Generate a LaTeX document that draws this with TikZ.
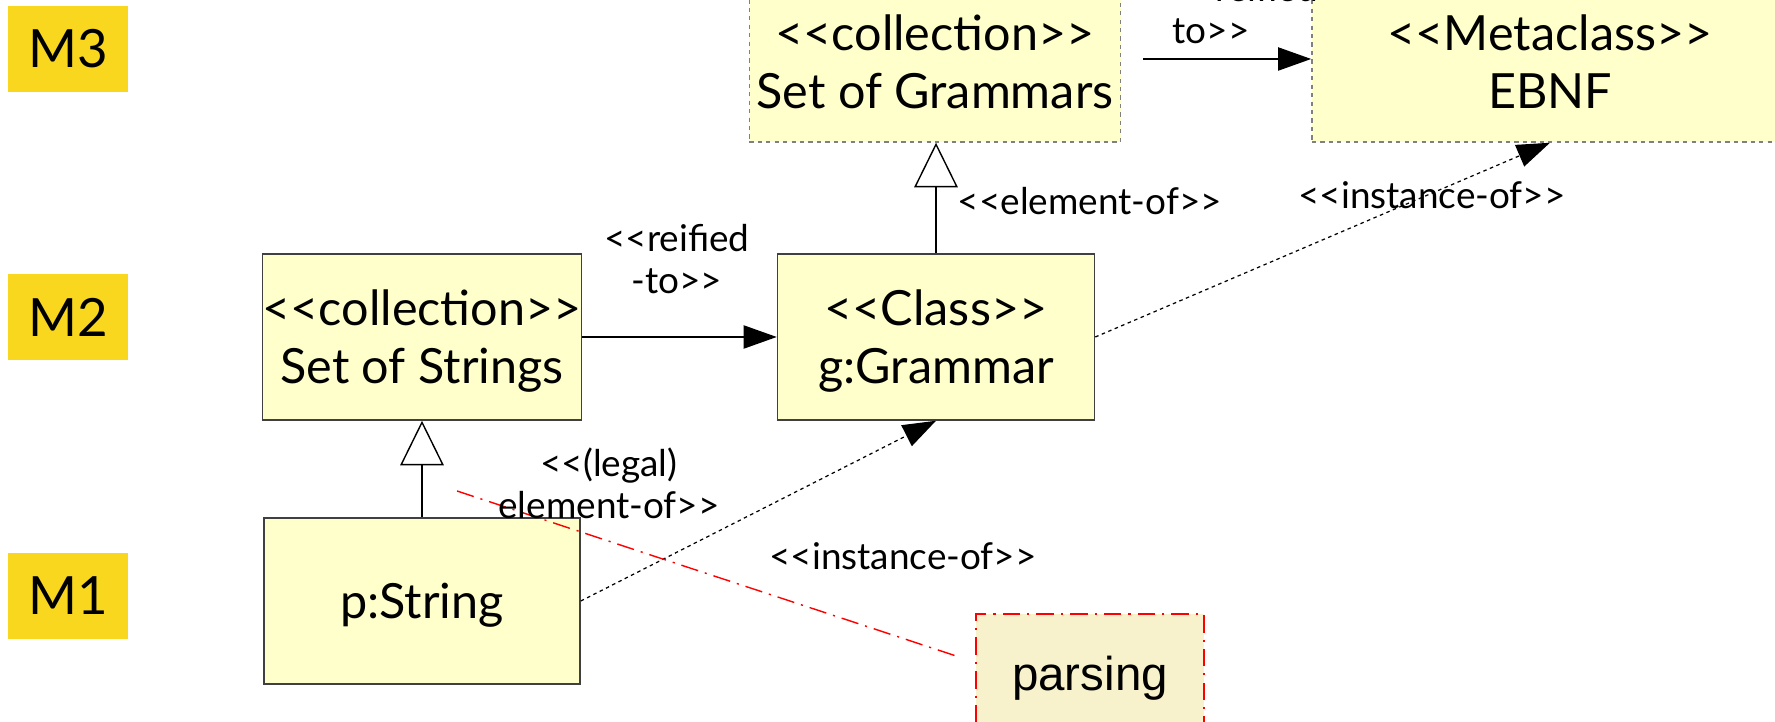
\documentclass[tikz,border=0pt]{standalone}
\usepackage{fontspec}
\setmainfont{Lato}
\newfontfamily\arialfont{Liberation Sans}
\usetikzlibrary{calc,arrows.meta}

\definecolor{boxfill}{HTML}{FFFFCC}
\definecolor{levelfill}{HTML}{F8D71E}
\definecolor{parsefill}{HTML}{F7F2CC}
\definecolor{boxline}{HTML}{404040}
\newcommand\stereo[1]{<{}<#1>{}>}

\begin{document}
\begin{tikzpicture}[x=.01cm, y=-.01cm,
    level/.style={fill=levelfill, inner sep=0, minimum width=1.19cm, minimum height=.86cm,
        font=\fontsize{15}{18}\selectfont},
    cls/.style={draw=boxline, line width=.4pt, fill=boxfill, align=center, inner sep=0,
        minimum height=1.66cm, text depth=0pt, font=\fontsize{13.8}{16.5}\selectfont},
    coll/.style={cls, draw=gray, dash pattern=on 1.2pt off 1.2pt, minimum height=1.6cm},
    lbl/.style={inner sep=0, align=center, font=\fontsize{10.5}{12}\selectfont},
    assoc/.style={line width=.4pt, -{Triangle[length=9.4pt, width=6.6pt]}},
    gen/.style={line width=.4pt, -{Triangle[open, length=12.7pt, width=12.4pt, fill=white]}},
    inst/.style={assoc, line width=.35pt, dash pattern=on 1pt off 1pt},
    trace/.style={red, line width=.4pt, dash pattern=on 5pt off 2pt on .6pt off 2pt}]
    \clip (0, 0) rectangle (1775, 722);

    \node[level] (m3) at (68, 49) {M3};
    \node[level] (m2) at (68, 317) {M2};
    \node[level] (m1) at (68, 596) {M1};

    \node[coll, minimum width=3.71cm] (grammars) at (935, 62) {\stereo{collection}\\Set of Grammars};
    \node[coll, minimum width=4.76cm] (ebnf) at (1550, 62) {\stereo{Metaclass}\\EBNF};
    \node[cls, minimum width=3.16cm] (strings) at (422, 337) {\stereo{collection}\\Set of Strings};
    \node[cls, minimum width=3.17cm] (grammar) at (936, 337) {\stereo{Class}\\g:Grammar};
    \node[cls, minimum width=3.16cm] (pstring) at (422, 601) {p:String};
    \node[trace, draw=red, fill=parsefill, text=black, minimum width=2.28cm, minimum height=1.28cm,
        font=\arialfont\fontsize{13.5}{16}\selectfont] (parsing) at (1090, 678) {parsing};

    \coordinate (trace) at (457, 491);

    \draw [assoc, shorten <=6.2pt] (grammars.east |- 0, 59) -- (ebnf.west |- 0, 59);
    \draw [assoc] (strings) -- (grammar);
    \draw [gen] (grammar.north) -- (grammar.north |- grammars.south);
    \draw [gen] (pstring) -- (strings);
    \draw [inst] (grammar.east) -- (ebnf.south);
    \draw [inst] (pstring.east) -- (grammar.south);
    \draw [trace] (trace) -- ($ (parsing.west) + (-16, -21) $);

    \node[lbl, align=left, anchor=south west] (reif3) at (1172, 45) {\stereo{reified-}\\to>{}>};
    \node[lbl] (reif2) at (677, 259) {<{}<reified\\-to>{}>};
    \node[lbl, anchor=west] (elem2) at (957, 201) {\stereo{element-of}};
    \node[lbl] (inst3) at (1432, 195) {\stereo{instance-of}};
    \node[lbl] (elem1) at (609, 483) {<{}<(legal)\\element-of>{}>};
    \node[lbl] (inst2) at (903, 556) {\stereo{instance-of}};
\end{tikzpicture}
\end{document}
